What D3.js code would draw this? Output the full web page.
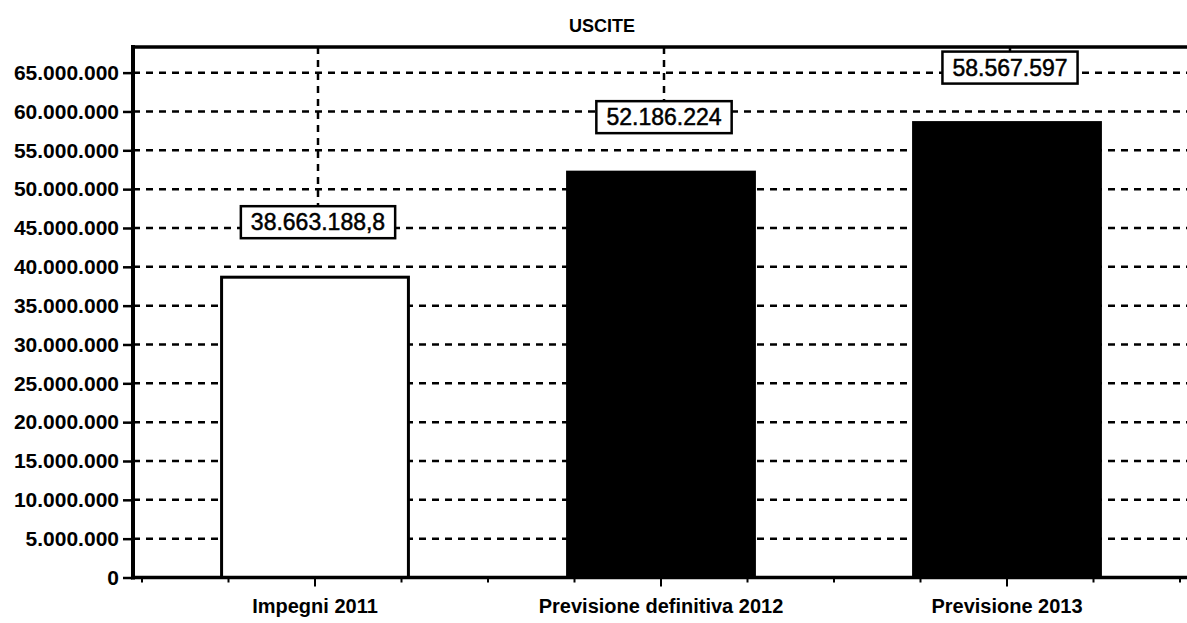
<!DOCTYPE html>
<html>
<head>
<meta charset="utf-8">
<script src="https://cdn.jsdelivr.net/npm/d3@7"></script>
<style>
  body { margin: 0; background: #fff; }
  text { font-family: "Liberation Sans", Arial, sans-serif; fill: #000; }
</style>
</head>
<body>
<div id="viz"></div>
<script>
// chart data
var categories = ["Impegni 2011", "Previsione definitiva 2012", "Previsione 2013"];
var values = [38663188.8, 52186224, 58567597];
var barColors = ["#ffffff", "#000000", "#000000"];
var yTicks = [0, 5000000, 10000000, 15000000, 20000000, 25000000, 30000000,
  35000000, 40000000, 45000000, 50000000, 55000000, 60000000, 65000000];
var title = "USCITE";

// size of the page
var w = 1187;
var h = 623;

// italian number format, dots for thousands
var it = d3.formatLocale({ decimal: ",", thousands: ".", grouping: [3], currency: ["", " €"] });
var fmtInt = it.format(",d");
var fmtDec = it.format(",.1f");
var fmtVal = function (v) {
  return Number.isInteger(v) ? fmtInt(v) : fmtDec(v);
};

var frameLeft = 133;
var frameTop = 47;
var x0 = 142, x1 = 1180;
var labOffset = 55; // label box centre above bar top
var boxH = 32;

var x = d3.scaleBand().domain(categories).range([x0, x1]).paddingInner(0).paddingOuter(0);
var y = d3.scaleLinear().domain([0, 68300000]).range([577.5, frameTop]);

var svg = d3.select("div#viz").append("svg")
  .attr("width", w)
  .attr("height", h);

// title
svg.append("text").text(title)
  .attr("x", 602)
  .attr("y", 32)
  .attr("text-anchor", "middle")
  .style("font-size", "18px")
  .style("font-weight", "bold");

var dash = "7,6";

// horizontal grid
svg.append("g").selectAll("line").data(yTicks.filter(function (d) { return d > 0; }))
  .enter().append("line")
  .attr("x1", frameLeft)
  .attr("x2", w)
  .attr("y1", function (d) { return y(d); })
  .attr("y2", function (d) { return y(d); })
  .attr("stroke", "#000")
  .attr("stroke-width", 2.5)
  .attr("stroke-dasharray", dash);

// vertical dashed lines from the top down to each label box
svg.append("g").selectAll("line").data(values)
  .enter().append("line")
  .attr("x1", function (d, i) { return x(categories[i]) + x.bandwidth() / 2 + 3; })
  .attr("x2", function (d, i) { return x(categories[i]) + x.bandwidth() / 2 + 3; })
  .attr("y1", frameTop)
  .attr("y2", function (d) { return y(d) - labOffset - boxH / 2; })
  .attr("stroke", "#000")
  .attr("stroke-width", 2.5)
  .attr("stroke-dasharray", dash);

// bars
var barW = x.bandwidth() * 0.54;
svg.append("g").selectAll("rect").data(values)
  .enter().append("rect")
  .attr("x", function (d, i) { return x(categories[i]) + (x.bandwidth() - barW) / 2; })
  .attr("y", function (d) { return y(d); })
  .attr("width", barW)
  .attr("height", function (d) { return y(0) - y(d); })
  .attr("fill", function (d, i) { return barColors[i]; })
  .attr("stroke", "#000")
  .attr("stroke-width", 3);

// value labels in boxes
var lab = svg.append("g").selectAll("g").data(values)
  .enter().append("g")
  .attr("transform", function (d, i) {
    return "translate(" + (x(categories[i]) + x.bandwidth() / 2 + 3) + "," + (y(d) - labOffset) + ")";
  });

var labRect = lab.append("rect")
  .attr("fill", "#fff")
  .attr("stroke", "#000")
  .attr("stroke-width", 2.5);

var labText = lab.append("text").text(function (d) { return fmtVal(d); })
  .attr("text-anchor", "middle")
  .attr("dy", "0.36em")
  .style("font-size", "23px")
  .style("stroke", "#000")
  .style("stroke-width", 0.5);

labText.each(function (d, i) {
  var bb = this.getBBox();
  var bw = bb.width + 20;
  d3.select(labRect.nodes()[i])
    .attr("x", -bw / 2)
    .attr("y", -boxH / 2)
    .attr("width", bw)
    .attr("height", boxH);
});

// frame: left and top
svg.append("line")
  .attr("x1", frameLeft).attr("x2", frameLeft)
  .attr("y1", frameTop - 2).attr("y2", y(0) + 2)
  .attr("stroke", "#000").attr("stroke-width", 4);
svg.append("line")
  .attr("x1", frameLeft - 2).attr("x2", w)
  .attr("y1", frameTop).attr("y2", frameTop)
  .attr("stroke", "#000").attr("stroke-width", 3.5);

// y axis
var yAxis = d3.axisLeft(y)
  .tickValues(yTicks)
  .tickSize(9)
  .tickPadding(4)
  .tickFormat(function (d) { return fmtInt(d); });

var gy = svg.append("g")
  .attr("transform", "translate(" + (frameLeft - 1) + ",0)")
  .call(yAxis);
gy.select(".domain").remove();
gy.selectAll(".tick line").attr("stroke", "#000").attr("stroke-width", 2.5);
gy.selectAll(".tick text")
  .style("font-size", "21px")
  .style("font-weight", "bold")
  .style("font-family", "'Liberation Sans', Arial, sans-serif")
  .attr("fill", "#000");

// x axis with quarter ticks
var xAxis = d3.axisBottom(x).tickSize(9).tickPadding(12);
var gx = svg.append("g")
  .attr("transform", "translate(0," + y(0) + ")")
  .call(xAxis);
gx.select(".domain").remove();
gx.selectAll(".tick line").attr("stroke", "#000").attr("stroke-width", 2);
gx.selectAll(".tick text")
  .style("font-size", "20px")
  .style("font-weight", "bold")
  .style("font-family", "'Liberation Sans', Arial, sans-serif")
  .attr("fill", "#000");

var minorTicks = [];
categories.forEach(function (c) {
  [0, 0.25, 0.75].forEach(function (f) { minorTicks.push(x(c) + f * x.bandwidth()); });
});
minorTicks.push(x1);
gx.append("g").selectAll("line").data(minorTicks)
  .enter().append("line")
  .attr("x1", function (d) { return d; })
  .attr("x2", function (d) { return d; })
  .attr("y1", 0)
  .attr("y2", 5)
  .attr("stroke", "#000")
  .attr("stroke-width", 2);

gx.append("line")
  .attr("x1", frameLeft - 2).attr("x2", w)
  .attr("y1", 0).attr("y2", 0)
  .attr("stroke", "#000").attr("stroke-width", 3.5);
</script>
</body>
</html>
